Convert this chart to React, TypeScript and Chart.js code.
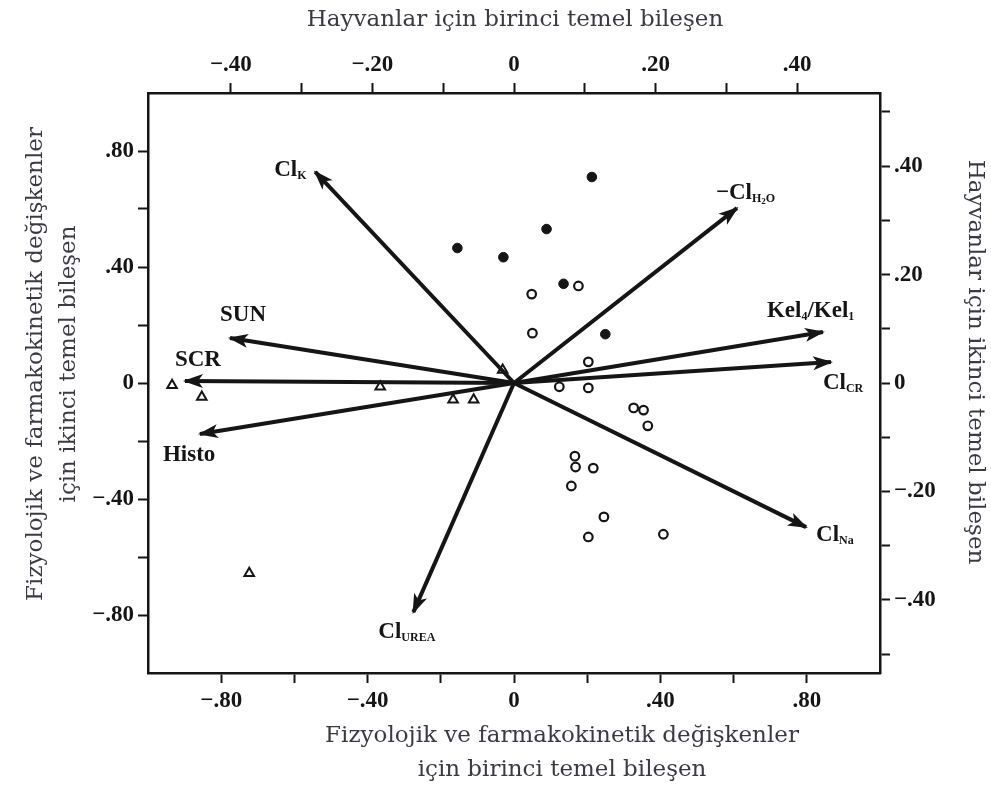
import React, { useEffect, useRef } from "react";
import { Chart, registerables } from "chart.js";

Chart.register(...registerables);

// ---- Variable loadings (bottom / left axes) ----
const variableNames = ["ClK", "ClH2O", "Kel", "ClCR", "ClNa", "ClUREA", "Histo", "SUN", "SCR"];
const variableX = [-0.543, 0.609, 0.844, 0.866, 0.798, -0.275, -0.858, -0.776, -0.899];
const variableY = [0.728, 0.603, 0.176, 0.072, -0.497, -0.79, -0.176, 0.155, 0.007];

// ---- Animal scores (top / right axes) ----
const triangleX = [-0.483, -0.441, -0.189, -0.086, -0.057, -0.374, -0.016];
const triangleY = [-0.004, -0.026, -0.007, -0.031, -0.031, -0.351, 0.024];

const filledX = [0.11, 0.046, -0.015, -0.08, 0.07, 0.129];
const filledY = [0.38, 0.284, 0.232, 0.249, 0.183, 0.09];

const openX = [0.091, 0.025, 0.026, 0.105, 0.064, 0.105, 0.169, 0.183, 0.189, 0.086, 0.087, 0.112, 0.081, 0.127, 0.105, 0.211];
const openY = [0.179, 0.164, 0.092, 0.039, -0.007, -0.009, -0.046, -0.05, -0.079, -0.135, -0.155, -0.157, -0.19, -0.247, -0.284, -0.279];

// ---- Ticks ----
const bottomTickValues = [-0.8, -0.6, -0.4, -0.2, 0, 0.2, 0.4, 0.6, 0.8];
const bottomTickLabels = ["\u2212.80", "", "\u2212.40", "", "0", "", ".40", "", ".80"];
const leftTickValues = [-0.8, -0.6, -0.4, -0.2, 0, 0.2, 0.4, 0.6, 0.8];
const leftTickLabels = ["\u2212.80", "", "\u2212.40", "", "0", "", ".40", "", ".80"];
const topTickValues = [-0.4, -0.3, -0.2, -0.1, 0, 0.1, 0.2, 0.3, 0.4];
const topTickLabels = ["\u2212.40", "", "\u2212.20", "", "0", "", ".20", "", ".40"];
const rightTickValues = [-0.5, -0.4, -0.3, -0.2, -0.1, 0, 0.1, 0.2, 0.3, 0.4, 0.5];
const rightTickLabels = ["", "\u2212.40", "", "\u2212.20", "", "0", "", ".20", "", ".40", ""];

// ---- Texts ----
const topTitle = "Hayvanlar için birinci temel bileşen";
const bottomTitle = ["Fizyolojik ve farmakokinetik değişkenler", "için birinci temel bileşen"];
const leftTitle = ["Fizyolojik ve farmakokinetik değişkenler", "için ikinci temel bileşen"];
const rightTitle = "Hayvanlar için ikinci temel bileşen";

// label pieces: [text, level] level 0 = normal, 1 = subscript, 2 = sub-subscript
const variableLabels: Array<Array<[string, number]>> = [
  [["Cl", 0], ["K", 1]],
  [["\u2212Cl", 0], ["H", 1], ["2", 2], ["O", 1]],
  [["Kel", 0], ["4", 1], ["/Kel", 0], ["1", 1]],
  [["Cl", 0], ["CR", 1]],
  [["Cl", 0], ["Na", 1]],
  [["Cl", 0], ["UREA", 1]],
  [["Histo", 0]],
  [["SUN", 0]],
  [["SCR", 0]],
];

// label placement relative to arrow tip (pixels)
const labelPlacement: Record<string, [number, number]> = {
  ClK: [-41, -2],
  ClH2O: [-21, -15],
  Kel: [-56, -21],
  ClCR: [-8, 21],
  ClNa: [10, 8],
  ClUREA: [-35, 20],
  Histo: [-37, 21],
  SUN: [-10, -23],
  SCR: [-10, -21],
};

const INK = "#151515";
const TICK_FONT = { family: "'Liberation Serif', serif", size: 23, weight: "bold" as const };

const arrowPlugin = {
  id: "arrowHeads",
  afterDatasetsDraw(chart: any) {
    const { ctx } = chart;
    const xs = chart.scales.x;
    const ys = chart.scales.y;
    const ox = xs.getPixelForValue(0);
    const oy = ys.getPixelForValue(0);
    ctx.save();
    variableNames.forEach((name, i) => {
      const px = xs.getPixelForValue(variableX[i]);
      const py = ys.getPixelForValue(variableY[i]);
      const a = Math.atan2(py - oy, px - ox);
      const L = 20;
      const W = 7;
      const tx = px + Math.cos(a) * 2;
      const ty = py + Math.sin(a) * 2;
      const bx = tx - Math.cos(a) * L;
      const by = ty - Math.sin(a) * L;
      const nx = -Math.sin(a);
      const ny = Math.cos(a);
      const mx = tx - Math.cos(a) * (L - 5);
      const my = ty - Math.sin(a) * (L - 5);
      ctx.fillStyle = INK;
      ctx.beginPath();
      ctx.moveTo(tx, ty);
      ctx.lineTo(bx + nx * W, by + ny * W);
      ctx.lineTo(mx, my);
      ctx.lineTo(bx - nx * W, by - ny * W);
      ctx.closePath();
      ctx.fill();

      // label
      const [dx, dy] = labelPlacement[name];
      let x = px + dx;
      const y = py + dy;
      ctx.textBaseline = "middle";
      ctx.textAlign = "left";
      variableLabels[i].forEach(([t, lvl]) => {
        const size = lvl === 0 ? 23 : lvl === 1 ? 12 : 9;
        const off = lvl === 0 ? 0 : lvl === 1 ? 6 : 9;
        ctx.font = `bold ${size}px 'Liberation Serif', serif`;
        ctx.fillText(t, x, y + off);
        x += ctx.measureText(t).width;
      });
    });
    ctx.restore();
  },
};

const titlePlugin = {
  id: "axisTitles",
  afterDraw(chart: any) {
    const { ctx } = chart;
    ctx.save();
    ctx.fillStyle = "#3a3a44";
    ctx.font = "23px 'DejaVu Serif', serif";
    ctx.textAlign = "center";
    ctx.textBaseline = "middle";
    ctx.fillText(topTitle, 515, 20);
    ctx.fillText(bottomTitle[0], 562, 736);
    ctx.fillText(bottomTitle[1], 562, 770);
    ctx.save();
    ctx.translate(36, 364);
    ctx.rotate(-Math.PI / 2);
    ctx.fillText(leftTitle[0], 0, 0);
    ctx.fillText(leftTitle[1], 0, 33);
    ctx.restore();
    ctx.save();
    ctx.translate(975, 362);
    ctx.rotate(Math.PI / 2);
    ctx.fillText(rightTitle, 0, 0);
    ctx.restore();
    ctx.restore();
  },
};

function axis(position: string, min: number, max: number, values: number[], labels: string[], size: number) {
  return {
    type: "linear" as const,
    position,
    min,
    max,
    afterBuildTicks: (scale: any) => {
      scale.ticks = values.map((v) => ({ value: v }));
    },
    afterFit: (scale: any) => {
      if (position === "left" || position === "right") scale.width = size;
      else scale.height = size;
    },
    ticks: {
      autoSkip: false,
      maxRotation: 0,
      minRotation: 0,
      padding: 4,
      color: INK,
      font: TICK_FONT,
      callback: (_v: any, index: number) => labels[index],
    },
    grid: {
      drawOnChartArea: false,
      drawTicks: true,
      tickLength: 10,
      tickWidth: 2,
      color: INK,
    },
    border: { display: true, color: INK, width: 2.5 },
  };
}

export default function App() {
  const ref = useRef<HTMLCanvasElement | null>(null);
  useEffect(() => {
    if (!ref.current) return;
    const arrowSets = variableNames.map((n, i) => ({
      label: n,
      data: [
        { x: 0, y: 0 },
        { x: variableX[i], y: variableY[i] },
      ],
      showLine: true,
      borderColor: INK,
      borderWidth: 4,
      pointRadius: 0,
      xAxisID: "x",
      yAxisID: "y",
    }));
    const chart = new Chart(ref.current, {
      type: "scatter",
      data: {
        datasets: [
          ...arrowSets,
          {
            label: "triangles",
            data: triangleX.map((x, i) => ({ x, y: triangleY[i] })),
            pointStyle: "triangle",
            pointRadius: 5.5,
            borderWidth: 2,
            borderColor: INK,
            backgroundColor: "#ffffff",
            xAxisID: "x2",
            yAxisID: "y2",
          },
          {
            label: "open",
            data: openX.map((x, i) => ({ x, y: openY[i] })),
            pointStyle: "circle",
            pointRadius: 4.3,
            borderWidth: 2.2,
            borderColor: INK,
            backgroundColor: "#ffffff",
            xAxisID: "x2",
            yAxisID: "y2",
          },
          {
            label: "filled",
            data: filledX.map((x, i) => ({ x, y: filledY[i] })),
            pointStyle: "circle",
            pointRadius: 4.8,
            borderWidth: 1,
            borderColor: INK,
            backgroundColor: INK,
            xAxisID: "x2",
            yAxisID: "y2",
          },
        ],
      },
      options: {
        responsive: false,
        animation: false,
        layout: { padding: 0 },
        plugins: { legend: { display: false }, tooltip: { enabled: false }, title: { display: false } },
        scales: {
          x: axis("bottom", -1, 1, bottomTickValues, bottomTickLabels, 112),
          x2: axis("top", -0.517, 0.517, topTickValues, topTickLabels, 93),
          y: axis("left", -1, 1, leftTickValues, leftTickLabels, 148),
          y2: axis("right", -0.535, 0.535, rightTickValues, rightTickLabels, 111),
        } as any,
      },
      plugins: [arrowPlugin, titlePlugin],
    });
    return () => chart.destroy();
  }, []);
  return (
    <div style={{ position: "fixed", left: 0, top: 0, width: 991, height: 785, background: "#fff" }}>
      <canvas ref={ref} width={991} height={785} style={{ display: "block" }} />
    </div>
  );
}
